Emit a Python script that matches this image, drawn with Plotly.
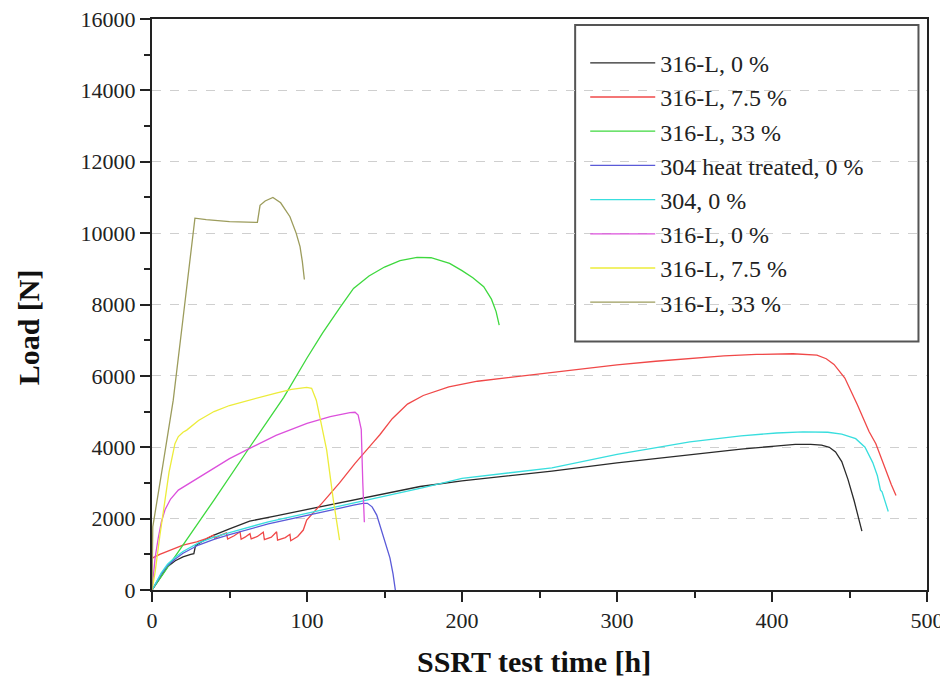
import plotly.graph_objects as go

# ---------------- data ----------------
names = ["316-L, 0 %", "316-L, 7.5 %", "316-L, 33 %", "304 heat treated, 0 %",
         "304, 0 %", "316-L, 0 %", "316-L, 7.5 %", "316-L, 33 %"]
colors = ["#2a2a2a", "#f04848", "#3ed83e", "#5a5ad8",
          "#38dede", "#dc50dc", "#ecec3a", "#9c9c5c"]

black_x = [0, 3, 6, 10, 15, 20, 25, 27, 28, 30, 35, 40, 50, 63, 80, 100, 120, 136, 150, 173,
           200, 230, 258, 300, 347, 380, 402, 415, 425, 432, 437, 441, 445, 449, 453, 456, 458]
black_y = [0, 200, 420, 650, 820, 930, 1000, 1020, 1230, 1300, 1430, 1540, 1710, 1930, 2080,
           2260, 2440, 2580, 2690, 2900, 3060, 3200, 3330, 3560, 3800, 3950, 4030, 4080, 4080,
           4060, 4000, 3870, 3600, 3100, 2500, 2000, 1650]

red_x = [0, 0.5, 5, 11.6, 20, 28.8, 35, 39.6, 40.5, 44, 48, 48.8, 53, 56.8, 57.5, 60, 63.2,
         64, 68, 71.8, 72.5, 77, 80.4, 81, 86, 89, 89.5, 94, 97.6, 99.8, 105, 110, 121, 131,
         143, 147, 155, 164.8, 175, 191.5, 210, 236, 260, 280, 300, 325, 350, 369, 390, 413.5,
         429, 435, 440, 447, 455, 462.6, 467, 472, 477, 480]
red_y = [880, 900, 1000, 1120, 1260, 1350, 1440, 1540, 1450, 1530, 1600, 1430, 1520, 1630,
         1420, 1480, 1580, 1430, 1500, 1620, 1410, 1480, 1630, 1400, 1470, 1560, 1380, 1500,
         1680, 1960, 2200, 2450, 3000, 3550, 4150, 4350, 4800, 5210, 5450, 5690, 5850, 5980,
         6110, 6220, 6310, 6410, 6500, 6560, 6600, 6620, 6580, 6480, 6320, 5940, 5200, 4440,
         4100, 3500, 2950, 2650]

green_x = [0, 20, 40, 63, 85, 100, 110, 121, 130, 140, 150, 160, 171, 180, 192, 200, 207,
           214, 219, 222, 224]
green_y = [0, 1250, 2520, 4000, 5400, 6500, 7200, 7900, 8450, 8800, 9050, 9230, 9320, 9310,
           9150, 8950, 8750, 8500, 8150, 7800, 7420]

blue_x = [0, 3, 6, 10, 15, 20, 30, 40, 50, 75, 100, 120, 130, 136, 139, 142, 145, 148, 151,
          153.5, 155.5, 157]
blue_y = [0, 230, 450, 680, 870, 1030, 1260, 1420, 1550, 1850, 2080, 2280, 2380, 2430, 2430,
          2330, 2100, 1700, 1250, 900, 450, 0]

cyan_x = [0, 3, 6, 10, 15, 20, 30, 40, 50, 75, 100, 125, 150, 175, 200, 230, 258, 300, 347,
          380, 403, 420, 436, 445, 454, 460, 465, 468, 470, 471, 473, 475]
cyan_y = [0, 250, 480, 720, 920, 1080, 1320, 1480, 1610, 1910, 2150, 2400, 2620, 2870, 3130,
          3270, 3420, 3800, 4150, 4320, 4400, 4430, 4420, 4370, 4240, 4000, 3570, 3200, 2800,
          2750, 2450, 2200]

magenta_x = [0, 1, 2, 4, 6, 8.4, 12, 17, 24.5, 35, 50, 63, 80, 100, 115, 127.7, 131, 133,
             135, 136, 137]
magenta_y = [0, 500, 900, 1450, 1900, 2250, 2550, 2800, 3000, 3300, 3680, 3970, 4330, 4670,
             4860, 4970, 4980, 4900, 4500, 3000, 1900]

yellow_x = [0, 2, 5, 8, 11, 14.8, 17, 20, 22.4, 30, 40, 50, 65, 80, 90, 99.8, 103, 106, 109,
            112.7, 117, 121]
yellow_y = [0, 500, 1500, 2400, 3300, 4100, 4300, 4420, 4480, 4750, 5000, 5170, 5350, 5520,
            5620, 5680, 5650, 5320, 4700, 3920, 2520, 1400]

olive_x = [0, 0.5, 7, 13.7, 20, 27.7, 35, 50, 68, 69.7, 73, 78, 83, 89, 93, 95.5, 97, 98.3]
olive_y = [0, 1770, 3500, 5320, 7600, 10420, 10380, 10320, 10300, 10780, 10900, 11000, 10850,
           10460, 10000, 9620, 9200, 8700]

series_x = [black_x, red_x, green_x, blue_x, cyan_x, magenta_x, yellow_x, olive_x]
series_y = [black_y, red_y, green_y, blue_y, cyan_y, magenta_y, yellow_y, olive_y]

x_ticks = [0, 100, 200, 300, 400, 500]
y_ticks = [0, 2000, 4000, 6000, 8000, 10000, 12000, 14000, 16000]

# ---------------- figure ----------------
FONT = '"Liberation Serif", "Times New Roman", Times, serif'
fig = go.Figure()
for nm, c, xs, ys in zip(names, colors, series_x, series_y):
    fig.add_trace(go.Scatter(x=xs, y=ys, mode="lines", name=nm,
                             line=dict(color=c, width=1.3)))

fig.update_layout(
    width=940, height=670,
    margin=dict(l=144, r=21, t=11, b=88, autoexpand=False),
    paper_bgcolor="white", plot_bgcolor="white",
    font=dict(family=FONT, color="black"),
    showlegend=True,
    legend=dict(x=0.559, y=0.962, xanchor="left", yanchor="top",
                bgcolor="rgba(0,0,0,0)", borderwidth=0,
                font=dict(family=FONT, size=24, color="#222"),
                itemwidth=65, tracegroupgap=0),
    xaxis=dict(range=[0, 500], tickvals=x_ticks, ticktext=[str(v) for v in x_ticks],
               ticks="outside", ticklen=10, automargin=False, ticklabeloverflow="allow",
               tickwidth=2, tickcolor="#222", linecolor="#222", linewidth=2,
               mirror=True, showgrid=False, zeroline=False,
               tickfont=dict(family=FONT, size=22, color="#222"),
               minor=dict(dtick=50, ticks="outside", ticklen=6, tickwidth=2,
                          tickcolor="#222", showgrid=False)),
    yaxis=dict(range=[0, 16000], tickvals=y_ticks, ticktext=[str(v) for v in y_ticks],
               ticks="outside", ticklen=10, automargin=False, ticklabeloverflow="allow",
               tickwidth=2, tickcolor="#222", linecolor="#222", linewidth=2,
               mirror=True, showgrid=True, gridcolor="#cfcfcf", griddash="dash",
               gridwidth=1, zeroline=False,
               tickfont=dict(family=FONT, size=22, color="#222"),
               minor=dict(dtick=1000, ticks="outside", ticklen=6, tickwidth=2,
                          tickcolor="#222", showgrid=False)),
    annotations=[
        dict(text="<b>SSRT test time [h]</b>", xref="paper", yref="paper",
             x=0.493, y=-0.126, xanchor="center", yanchor="middle", showarrow=False,
             font=dict(family=FONT, size=30, color="#111")),
        dict(text="<b>Load [N]</b>", xref="paper", yref="paper", textangle=-90,
             x=-0.16, y=0.46, xanchor="center", yanchor="middle", showarrow=False,
             font=dict(family=FONT, size=30, color="#111")),
    ],
    shapes=[dict(type="rect", xref="paper", yref="paper",
                 x0=0.546, x1=0.989, y0=0.435, y1=0.9895,
                 line=dict(color="#555", width=2), fillcolor="white", layer="below")],
)

fig.write_html("out.html")
